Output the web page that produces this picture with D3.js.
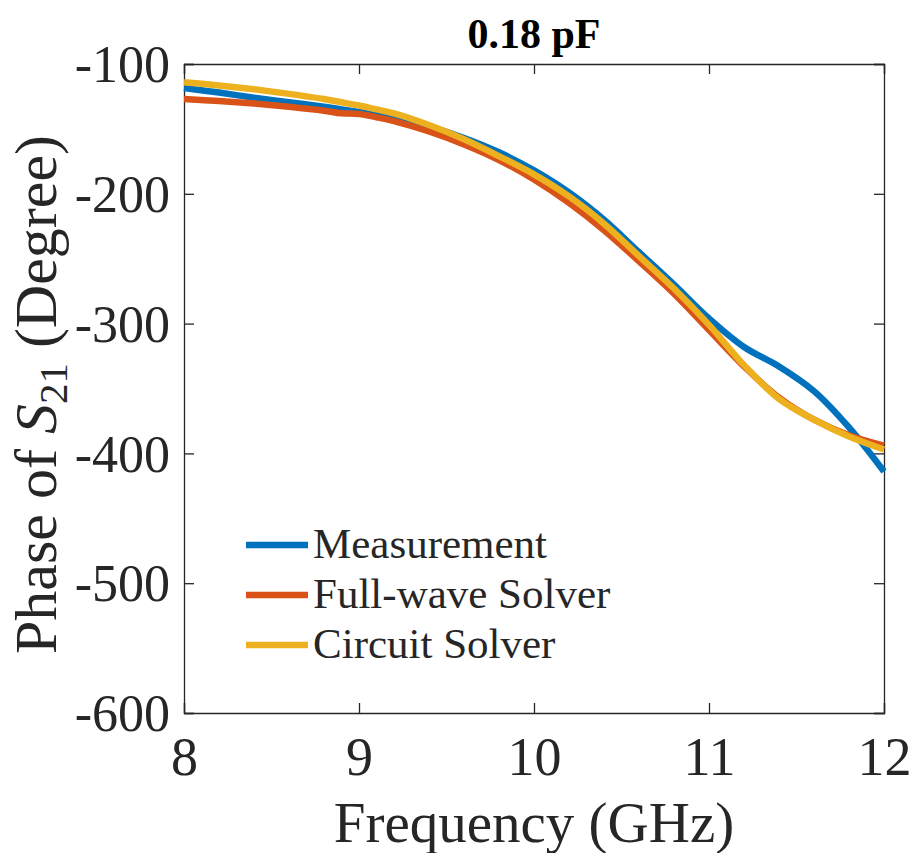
<!DOCTYPE html>
<html>
<head>
<meta charset="utf-8">
<script src="https://cdn.jsdelivr.net/npm/d3@7"></script>
<style>
  body { margin: 0; background: #fff; }
  text { font-family: "Liberation Serif", "Times New Roman", serif; fill: #262626; }
</style>
</head>
<body>
<div id="plotContainer"></div>
<script>
// data
const freqs = [8.0, 8.2, 8.4, 8.6, 8.8, 8.9, 9.0, 9.1, 9.2, 9.4, 9.6, 9.8, 10.0, 10.2, 10.4, 10.6, 10.8, 11.0, 11.2, 11.4, 11.6, 11.8, 12.0];
const measurement = [-118.5, -122, -126, -129.5, -133, -135, -137, -139, -141, -148, -157, -168, -182, -199, -220, -245, -270, -296, -318, -333, -352, -380, -414];
const fullWave = [-127, -128.5, -130.5, -133, -136, -138, -138.5, -141, -144, -152, -162, -174, -189, -207, -228, -252, -277, -305, -333, -357, -374, -386, -394];
const circuit = [-114, -116.5, -119.5, -123, -127, -129.5, -132, -135, -138, -147, -158, -171, -185, -202, -223, -248, -273, -301, -332, -358, -374, -387, -397];

const seriesNames = ["Measurement", "Full-wave Solver", "Circuit Solver"];
const seriesColors = ["#0072BD", "#D95319", "#EDB120"];
const xTicks = [8, 9, 10, 11, 12];
const yTicks = [-100, -200, -300, -400, -500, -600];

const margin = {top: 64, right: 27, bottom: 140, left: 184},
    width = 911 - margin.left - margin.right,
    height = 853 - margin.top - margin.bottom;

const svg = d3.select("#plotContainer")
  .append("svg")
    .attr("width", 911)
    .attr("height", 853);

const g = svg.append("g")
    .attr("transform", `translate(${margin.left},${margin.top})`);

const x = d3.scaleLinear().domain([8, 12]).range([0, width]);
const y = d3.scaleLinear().domain([-600, -100]).range([height, 0]);

// axes, ticks pointing inward, mirrored on top/right
const tickLen = 10;
const plain = d => String(d);   // keep the ascii hyphen like the original
g.append("g")
  .attr("transform", `translate(0,${height})`)
  .call(d3.axisBottom(x).tickValues(xTicks).tickSize(-tickLen).tickFormat(plain))
  .call(a => a.selectAll("text").style("font-size", "54px").attr("y", 62).attr("dy", 0));
g.append("g")
  .call(d3.axisTop(x).tickValues(xTicks).tickSize(-tickLen).tickFormat(""));
g.append("g")
  .call(d3.axisLeft(y).tickValues(yTicks).tickSize(-tickLen).tickPadding(14).tickFormat(plain))
  .call(a => a.selectAll("text").style("font-size", "52px").attr("dy", "0.34em"));
g.append("g")
  .attr("transform", `translate(${width},0)`)
  .call(d3.axisRight(y).tickValues(yTicks).tickSize(-tickLen).tickFormat(""));

g.selectAll(".domain").attr("stroke", "#262626").attr("stroke-width", 1.3);
g.selectAll(".tick line").attr("stroke", "#262626").attr("stroke-width", 1.3);
g.selectAll(".tick text").attr("fill", "#262626");

// lines
const allSeries = [measurement, fullWave, circuit];
const line = d3.line()
  .x((d, i) => x(freqs[i]))
  .y(d => y(d))
  .curve(d3.curveCatmullRom);

g.append("g")
  .selectAll("path")
  .data(allSeries)
  .join("path")
    .attr("d", d => line(d))
    .attr("fill", "none")
    .attr("stroke", (d, i) => seriesColors[i])
    .attr("stroke-width", 6.5)
    .attr("stroke-linejoin", "round");

// legend
const legend = g.append("g").attr("transform", `translate(${246 - margin.left},${545 - margin.top})`);
seriesNames.forEach((name, i) => {
  legend.append("line")
    .attr("x1", 0).attr("x2", 62)
    .attr("y1", i * 50).attr("y2", i * 50)
    .attr("stroke", seriesColors[i])
    .attr("stroke-width", 6.5);
  legend.append("text")
    .attr("x", 67).attr("y", i * 50 + 13)
    .style("font-size", "43px")
    .text(name);
});

// title
svg.append("text")
  .attr("x", margin.left + width / 2)
  .attr("y", 48)
  .attr("text-anchor", "middle")
  .style("font-size", "42px")
  .style("font-weight", "bold")
  .style("fill", "#000")
  .text("0.18 pF");

// x label
svg.append("text")
  .attr("x", margin.left + width / 2)
  .attr("y", 842)
  .attr("text-anchor", "middle")
  .style("font-size", "57px")
  .text("Frequency (GHz)");

// y label
const yl = svg.append("text")
  .attr("transform", `translate(56,${margin.top + height / 2 + 6}) rotate(-90)`)
  .attr("text-anchor", "middle")
  .style("font-size", "60px");
yl.append("tspan").text("Phase of ");
yl.append("tspan").style("font-style", "italic").text("S");
yl.append("tspan").attr("dy", 11).style("font-size", "41px").text("21");
yl.append("tspan").attr("dy", -11).text(" (Degree)");
</script>
</body>
</html>
